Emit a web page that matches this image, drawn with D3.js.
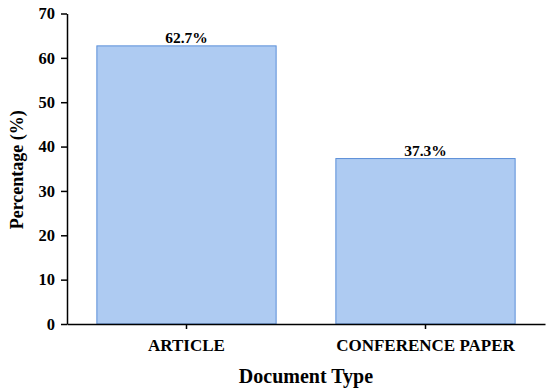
<!DOCTYPE html>
<html><head><meta charset="utf-8">
<script src="https://cdn.jsdelivr.net/npm/d3@7"></script>
<style>body{margin:0;background:#fff}svg{display:block}text{font-family:"Liberation Serif","Times New Roman",serif;font-weight:bold;fill:#000}</style>
</head><body><svg id="c" width="550" height="392"></svg>
<script>
const categories = ["ARTICLE", "CONFERENCE PAPER"];
const values = [62.7, 37.3];
const labels = ["62.7%", "37.3%"];
const yTicks = [0, 10, 20, 30, 40, 50, 60, 70];

const svg = d3.select("#c");
const m = {l: 67, r: 5, t: 13.5, b: 68};
const W = 550, H = 392;
const x = d3.scaleBand().domain(categories).range([m.l, W - m.r]).paddingInner(0.25).paddingOuter(0.125);
const y = d3.scaleLinear().domain([0, 70]).range([H - m.b, m.t]);

svg.selectAll("rect.bar").data(values).enter().append("rect")
  .attr("x", (d, i) => x(categories[i]))
  .attr("y", d => y(d))
  .attr("width", x.bandwidth())
  .attr("height", d => y(0) - y(d))
  .attr("fill", "#aecbf2").attr("stroke", "#5b8fd8").attr("stroke-width", 1);

svg.selectAll("text.val").data(values).enter().append("text")
  .attr("x", (d, i) => x(categories[i]) + x.bandwidth() / 2)
  .attr("y", d => y(d) - 3)
  .attr("text-anchor", "middle").attr("font-size", 15.5)
  .text((d, i) => labels[i]);

const ya = svg.append("g").attr("transform", `translate(${m.l},0)`)
  .call(d3.axisLeft(y).tickValues(yTicks).tickSize(6).tickSizeOuter(0).tickPadding(6));
const xa = svg.append("g").attr("transform", `translate(0,${y(0)})`)
  .call(d3.axisBottom(x).tickSize(5).tickSizeOuter(0).tickPadding(10));
[ya, xa].forEach(g => {
  g.selectAll("path,line").attr("stroke", "#000").attr("stroke-width", 1.5);
  g.selectAll("text").attr("font-size", 16.5).attr("font-family", '"Liberation Serif",serif').attr("font-weight", "bold").attr("fill", "#000");
});
xa.selectAll("text").attr("font-size", 17).attr("dy", null).attr("y", 27);

svg.append("text").attr("transform", `translate(23,${(m.t + y(0)) / 2 + 1}) rotate(-90)`)
  .attr("text-anchor", "middle").attr("font-size", 18).text("Percentage (%)");
svg.append("text").attr("x", (m.l + W - m.r) / 2).attr("y", 383)
  .attr("text-anchor", "middle").attr("font-size", 20).text("Document Type");
</script></body></html>
